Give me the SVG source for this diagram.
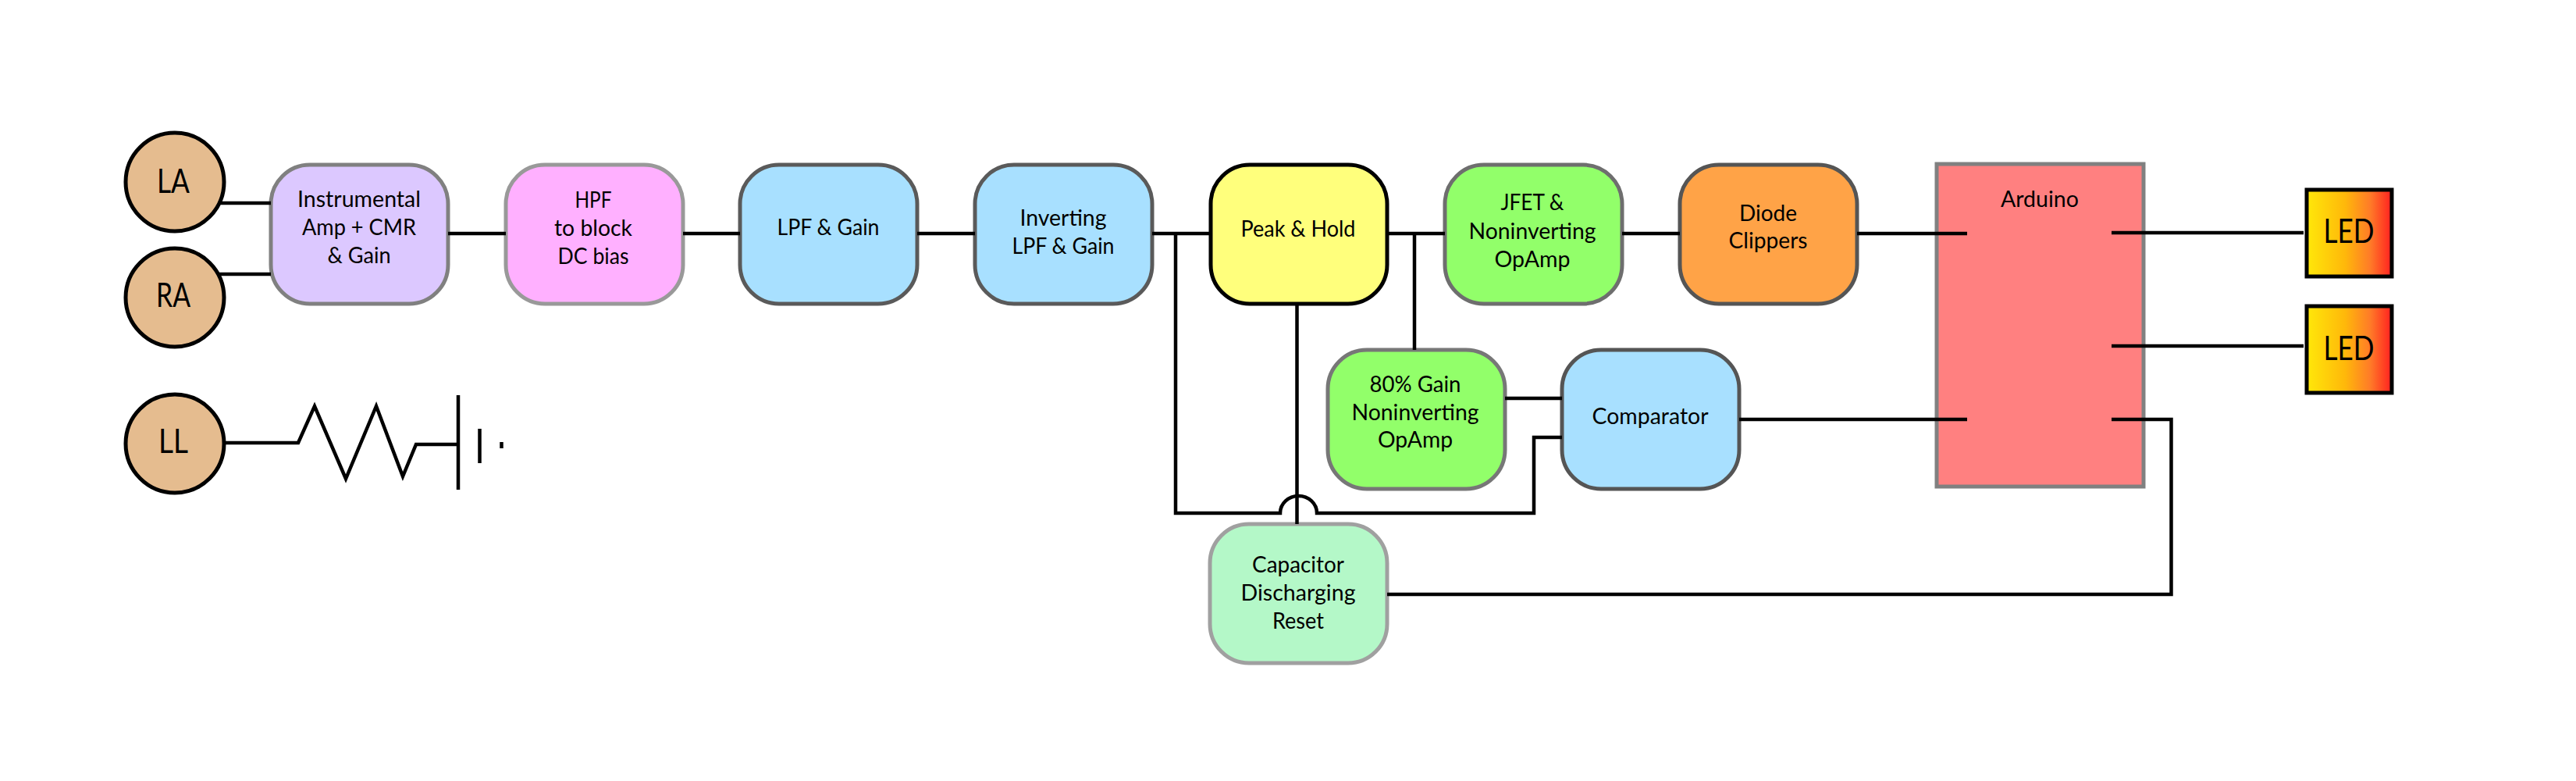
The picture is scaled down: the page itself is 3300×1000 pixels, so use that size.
<svg xmlns="http://www.w3.org/2000/svg" width="3300" height="1000" viewBox="0 0 3300 1000">
<style>
text{font-family:"Lato","Open Sans",sans-serif;font-size:29.500px;fill:#000;text-anchor:middle}
.big{font-size:42px}
.w{fill:none;stroke:#000;stroke-width:4.500}
.c{fill:#e5bc8f;stroke:#000;stroke-width:5}
.b{stroke-width:5}
</style>
<defs><linearGradient id="ledGrad" x1="0" y1="0" x2="1" y2="0"><stop offset="0" stop-color="#ffe80a"/><stop offset=".45" stop-color="#ffb80a"/><stop offset=".75" stop-color="#ff7a28"/><stop offset="1" stop-color="#ff2020"/></linearGradient></defs>
<rect width="3300" height="1000" fill="#fff"/>
<g id="LA"><circle class="c" cx="224" cy="233" r="63"/><text class="big" x="222" y="247" textLength="42" lengthAdjust="spacingAndGlyphs">LA</text></g>
<g id="RA"><circle class="c" cx="224" cy="381" r="63"/><text class="big" x="222" y="393" textLength="44" lengthAdjust="spacingAndGlyphs">RA</text></g>
<g id="LL"><circle class="c" cx="224" cy="568" r="63"/><text class="big" x="222" y="580" textLength="38" lengthAdjust="spacingAndGlyphs">LL</text></g>
<g id="instrumental"><rect class="b" x="347" y="211" width="227" height="178" rx="50" fill="#dcc8ff" stroke="#808080"/><text x="460" y="265" textLength="158" lengthAdjust="spacingAndGlyphs">Instrumental</text><text x="460" y="301" textLength="146" lengthAdjust="spacingAndGlyphs">Amp + CMR</text><text x="460" y="337" textLength="81" lengthAdjust="spacingAndGlyphs">&amp; Gain</text></g>
<g id="hpf"><rect class="b" x="648" y="211" width="227" height="178" rx="50" fill="#ffb0ff" stroke="#999"/><text x="760" y="266" textLength="47" lengthAdjust="spacingAndGlyphs">HPF</text><text x="760" y="302" textLength="100" lengthAdjust="spacingAndGlyphs">to block</text><text x="760" y="338" textLength="91" lengthAdjust="spacingAndGlyphs">DC bias</text></g>
<g id="lpf"><rect class="b" x="948" y="211" width="227" height="178" rx="50" fill="#a8e0ff" stroke="#5a5a5a"/><text x="1061" y="301" textLength="131" lengthAdjust="spacingAndGlyphs">LPF &amp; Gain</text></g>
<g id="inverting"><rect class="b" x="1249" y="211" width="227" height="178" rx="50" fill="#a8e0ff" stroke="#5a5a5a"/><text x="1362" y="289" textLength="111" lengthAdjust="spacingAndGlyphs">Inverting</text><text x="1362" y="325" textLength="131" lengthAdjust="spacingAndGlyphs">LPF &amp; Gain</text></g>
<g id="peak"><rect class="b" x="1551" y="211" width="226" height="178" rx="50" fill="#ffff7c" stroke="#000"/><text x="1663" y="303" textLength="147" lengthAdjust="spacingAndGlyphs">Peak &amp; Hold</text></g>
<g id="jfet"><rect class="b" x="1851" y="211" width="227" height="178" rx="50" fill="#92ff6a" stroke="#6e6e6e"/><text x="1963" y="269" textLength="81" lengthAdjust="spacingAndGlyphs">JFET &amp;</text><text x="1963" y="306" textLength="163" lengthAdjust="spacingAndGlyphs">Noninverting</text><text x="1963" y="342" textLength="97" lengthAdjust="spacingAndGlyphs">OpAmp</text></g>
<g id="diode"><rect class="b" x="2152" y="211" width="227" height="178" rx="50" fill="#ffa347" stroke="#555"/><text x="2265" y="283" textLength="74" lengthAdjust="spacingAndGlyphs">Diode</text><text x="2265" y="318" textLength="101" lengthAdjust="spacingAndGlyphs">Clippers</text></g>
<g id="gain80"><rect class="b" x="1701" y="448" width="227" height="178" rx="50" fill="#92ff6a" stroke="#777"/><text x="1813" y="502" textLength="117" lengthAdjust="spacingAndGlyphs">80% Gain</text><text x="1813" y="538" textLength="163" lengthAdjust="spacingAndGlyphs">Noninverting</text><text x="1813" y="573" textLength="96" lengthAdjust="spacingAndGlyphs">OpAmp</text></g>
<g id="comparator"><rect class="b" x="2001" y="448" width="227" height="178" rx="50" fill="#a8e0ff" stroke="#555"/><text x="2114" y="543" textLength="149" lengthAdjust="spacingAndGlyphs">Comparator</text></g>
<g id="capacitor"><rect class="b" x="1550" y="671" width="227" height="178" rx="50" fill="#b4f8c8" stroke="#a0a0a0"/><text x="1663" y="733" textLength="118" lengthAdjust="spacingAndGlyphs">Capacitor</text><text x="1663" y="769" textLength="147" lengthAdjust="spacingAndGlyphs">Discharging</text><text x="1663" y="805" textLength="66" lengthAdjust="spacingAndGlyphs">Reset</text></g>
<g id="arduino"><rect class="b" x="2481" y="210" width="265" height="413" fill="#ff8080" stroke="#808080"/><text x="2613" y="265" textLength="100" lengthAdjust="spacingAndGlyphs">Arduino</text></g>
<g id="led1"><rect x="2955" y="243" width="109" height="111" fill="url(#ledGrad)" stroke="#000" stroke-width="5"/><text class="big" x="3009" y="311" textLength="65" lengthAdjust="spacingAndGlyphs">LED</text></g>
<g id="led2"><rect x="2955" y="392" width="109" height="111" fill="url(#ledGrad)" stroke="#000" stroke-width="5"/><text class="big" x="3009" y="461" textLength="65" lengthAdjust="spacingAndGlyphs">LED</text></g>
<g id="connectors">
<path class="w" d="M283 260H347M281 351H347M574 299H648M875 299H948M1175 299H1249M1476 299H1551M1777 299H1851M2078 299H2152"/>
<path class="w" d="M288 567H382L403 520L443 613L482 520L516 610L533 569H587"/>
<path class="w" d="M587 506V627M614.500 549V593M642.500 566V574"/>
<path class="w" d="M1506 299V657H1640A23.500 22 0 0 1 1687 657H1965V560H2001"/>
<path class="w" d="M1661.500 389V671M1812 299V448M1928 510H2001"/>
<path class="w" d="M2228 537H2520M2379 299H2520M2705 298H2951M2705 443H2951M2705 537H2781.500V761H1777"/>
</g>
</svg>
